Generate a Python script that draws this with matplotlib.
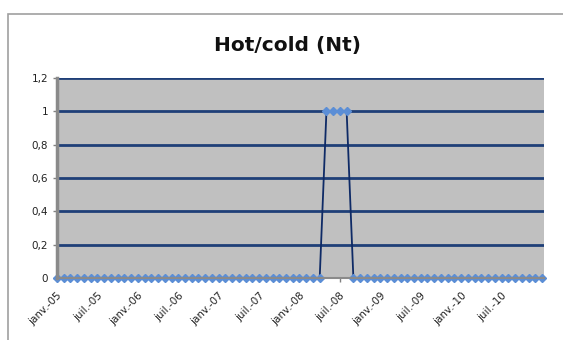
import numpy as np
import matplotlib.pyplot as plt
from matplotlib.patches import Rectangle

# monthly series, janv.-05 onwards
months = np.arange(73)
hot_cold = np.zeros(73)
hot_cold[40:44] = 1  # mai-08 .. août-08

tick_pos = np.arange(0, 72, 6)
tick_labels = ['janv.-05', 'juil.-05', 'janv.-06', 'juil.-06', 'janv.-07',
               'juil.-07', 'janv.-08', 'juil.-08', 'janv.-09', 'juil.-09',
               'janv.-10', 'juil.-10']
y_ticks = [0, 0.2, 0.4, 0.6, 0.8, 1, 1.2]
y_labels = ['0', '0,2', '0,4', '0,6', '0,8', '1', '1,2']

W, H = 563, 340
fig = plt.figure(figsize=(W / 100, H / 100), dpi=100)
fig.patch.set_facecolor('white')

# chart frame (partly cropped on the right/bottom)
fig.add_artist(Rectangle((8 / W, -0.1), 1.2, (H - 14) / H + 0.1,
                         transform=fig.transFigure, fill=False,
                         edgecolor='#a0a0a0', linewidth=1.2))

ax = fig.add_axes([57 / W, (H - 278) / H, (544 - 57) / W, (278 - 78) / H])
ax.set_facecolor('#c0c0c0')

for yv in y_ticks[1:]:
    ax.axhline(yv, color='#1f3f78', linewidth=2, zorder=1)

ax.plot(months, hot_cold, color='#0e2a66', linewidth=1.3, zorder=2,
        marker='D', markersize=3.8, markerfacecolor='#5b8ed6',
        markeredgecolor='#5b8ed6', clip_on=False)

ax.set_xlim(0, 72.3)
ax.set_ylim(0, 1.2)
ax.set_xticks(tick_pos)
ax.set_xticklabels(tick_labels, rotation=45, ha='right',
                   rotation_mode='anchor', fontsize=7.5, color='#222222')
ax.set_yticks(y_ticks)
ax.set_yticklabels(y_labels, fontsize=7.5, color='#222222')
ax.tick_params(axis='both', length=3, color='#808080', width=1)
ax.tick_params(axis='x', pad=6)

for side in ['top', 'right']:
    ax.spines[side].set_visible(False)
ax.spines['left'].set_color('#8a8a8a')
ax.spines['left'].set_linewidth(2.5)
ax.spines['bottom'].set_color('#8a8a8a')
ax.spines['bottom'].set_linewidth(1.5)

fig.text(288 / W, 1 - 45 / H, 'Hot/cold (Nt)', ha='center', va='center',
         fontsize=14.5, fontweight='bold', color='#111111')

fig.savefig('out.png', dpi=100)
